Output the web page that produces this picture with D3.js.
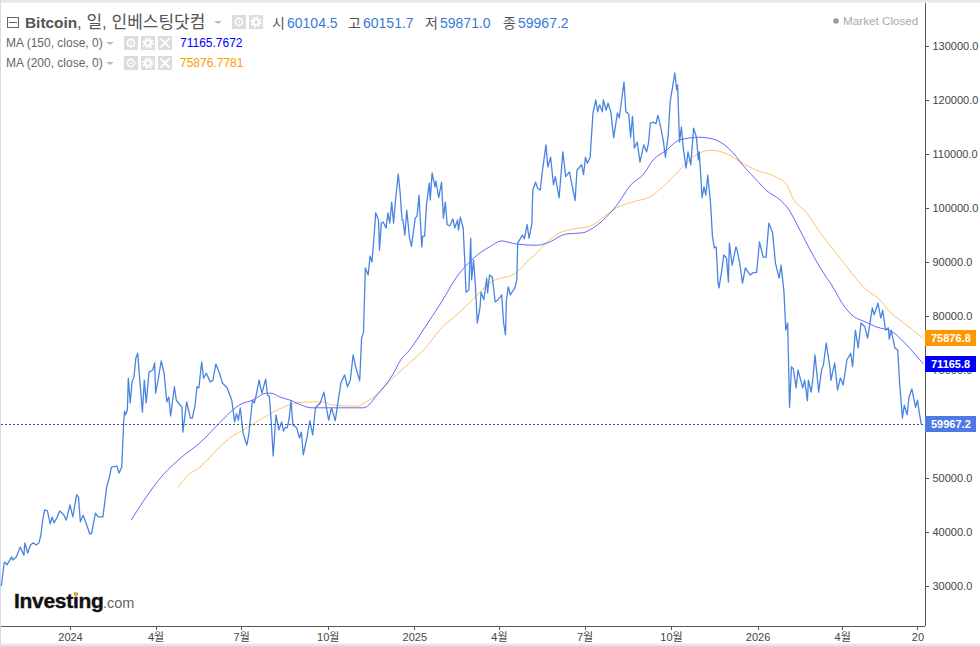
<!DOCTYPE html>
<html>
<head>
<meta charset="utf-8">
<script src="https://cdn.jsdelivr.net/npm/d3@7"></script>
<style>
  html, body { margin: 0; padding: 0; background: #fff; }
  svg { display: block; font-family: "Liberation Sans", "Noto Sans CJK KR", sans-serif; }
  .axis path, .axis line { stroke: #555; shape-rendering: crispEdges; }
  .axis text { fill: #444; font-size: 11px; font-family: "Liberation Sans", "Noto Sans CJK KR", sans-serif; }
</style>
</head>
<body>
<div id="chart"></div>
<script>
(function() {
  'use strict';

  // all days are counted from 2024-01-01, prices are in thousands
  var closeDays = [-73,-70,-69,-67,-62,-61,-57,-53,-49,-48,-45,-42,-39,-36,-33,-31,-29,-27,-24,-21,-19,-17,-14,-11,-7,-4,0,3,7,9,11,14,17,21,23,27,30,35,39,42,44,50,52,55,57,58,59,61,62,64,66,68,70,72,74,77,79,81,84,88,90,91,94,97,100,103,105,107,111,113,119,120,124,128,130,133,135,137,140,142,145,149,152,155,159,162,167,172,175,177,179,181,184,188,190,194,196,198,201,204,208,210,212,214,216,219,222,225,227,229,231,233,235,237,241,244,246,248,252,255,258,261,266,270,273,275,278,282,284,288,292,295,298,301,304,308,310,312,314,317,319,321,323,325,328,329,331,333,336,338,340,342,344,346,349,351,353,354,356,358,361,363,367,369,371,374,375,377,379,382,383,385,388,389,392,395,397,399,401,404,407,409,412,413,415,418,420,421,424,426,427,429,431,433,436,437,440,443,444,446,449,452,455,459,461,463,464,466,468,473,475,476,478,481,483,486,488,491,492,495,497,500,502,506,508,511,514,516,520,524,527,531,533,537,539,544,546,548,550,553,556,559,561,563,566,567,570,572,575,578,582,584,586,589,591,594,596,598,600,603,606,610,613,615,617,620,623,625,628,631,633,636,638,641,643,645,646,648,650,652,655,657,660,663,666,668,669,672,674,676,678,681,683,685,687,689,690,693,695,698,700,701,704,708,709,712,715,718,723,726,730,733,737,740,743,747,750,754,756,759,761,763,765,767,769,772,774,779,781,784,785,788,790,792,796,799,801,804,808,809,813,816,819,822,826,830,832,835,838,841,845,848,853,855,859,862,864,867,870,871,873,877,880,882,885,887,890,892,895,899,901,903,905];
  var closeValues = [30.0,34.3,34.4,33.9,35.4,34.8,35.4,37.2,35.7,38.0,36.1,37.6,38.0,37.6,38.0,39.4,42.2,44.1,43.9,41.5,42.8,41.7,42.6,43.9,43.3,42.2,45.0,42.8,46.9,46.5,41.9,43.1,41.7,39.6,39.8,43.5,42.8,42.8,48.3,50.2,52.0,52.2,50.9,52.0,60.2,62.4,61.7,62.6,68.5,63.9,67.8,68.7,72.2,73.1,68.5,62.2,68.1,63.9,69.6,70.0,71.3,65.7,68.5,71.7,69.4,64.1,65.0,61.5,66.9,64.4,63.1,58.5,64.1,61.1,61.1,63.5,66.9,66.7,71.5,68.5,69.4,67.8,68.1,71.1,69.4,67.6,66.7,64.4,60.4,61.9,60.7,63.0,58.3,56.1,58.0,64.4,63.9,65.4,68.1,65.7,68.3,65.4,65.0,60.2,54.1,61.7,58.9,60.4,58.7,59.4,59.3,61.1,64.3,59.8,59.3,57.4,58.5,54.3,57.6,60.6,58.0,63.0,63.9,65.9,62.6,60.7,63.0,60.6,63.0,67.6,69.1,66.9,68.1,72.8,70.4,68.0,75.9,76.9,88.9,87.6,91.1,90.0,94.1,99.1,97.8,92.2,97.2,97.4,96.3,99.1,97.2,101.1,97.2,101.3,106.3,102.8,97.8,97.8,95.0,99.6,94.4,92.9,98.1,98.5,102.4,92.8,94.8,94.8,100.6,104.6,101.5,106.5,103.9,105.0,101.9,104.8,98.1,101.1,96.9,96.7,98.0,96.3,97.8,95.9,98.3,96.3,89.1,84.4,84.8,94.4,86.7,90.4,85.7,78.7,81.7,84.4,83.0,87.0,84.3,87.6,87.2,82.6,83.0,83.9,78.7,76.5,83.0,85.4,83.9,85.2,86.7,93.5,94.1,95.0,94.3,96.9,94.4,97.0,103.3,104.8,103.7,103.3,106.5,111.7,107.6,109.4,104.3,105.8,101.9,110.4,105.8,106.7,104.9,101.4,107.0,108.0,106.2,109.4,108.3,109.4,117.6,120.0,117.8,119.1,117.8,120.0,118.1,119.4,117.8,113.0,117.6,116.7,119.4,123.3,117.8,117.4,113.1,117.0,111.1,112.2,108.5,111.7,110.4,112.0,115.7,115.9,115.6,117.2,115.0,112.2,109.4,113.5,119.6,122.8,125.0,121.9,122.8,112.2,115.0,111.1,107.4,110.4,108.0,114.8,113.1,108.9,110.4,101.9,103.9,102.4,106.1,100.9,94.8,92.6,92.8,86.1,85.2,88.5,91.3,90.7,86.3,93.5,89.4,92.8,92.4,89.8,86.1,88.9,87.6,88.0,88.1,93.7,90.9,90.9,97.2,95.4,89.8,87.0,89.4,84.6,77.4,78.7,63.1,70.6,70.2,66.7,70.0,66.7,68.1,64.3,68.1,65.9,68.7,72.8,65.9,70.0,70.9,75.0,70.4,68.1,71.3,66.3,68.5,67.2,71.9,73.1,70.6,77.4,74.1,78.7,78.0,75.9,81.5,80.2,82.4,79.6,81.1,77.4,77.8,75.7,77.4,74.1,73.7,67.6,61.1,63.5,61.7,65.0,66.5,63.1,64.4,62.0,59.9672];

  var ma150Days = [65,78,99,119,138,159,173,182,194,209,214,223,236,246,257,276,312,328,344,351,361,377,395,411,429,446,459,465,476,496,507,528,545,556,579,598,609,620,634,648,669,683,705,715,733,740,755,763,776,787,797,813,820,834,843,857,875,884,907];
  var ma150Values = [42.2,45.7,50.6,53.9,56.5,60.2,62.6,63.7,64.4,65.7,65.7,65.0,64.3,63.5,63.0,63.0,63.0,65.7,69.4,71.7,73.7,77.8,82.6,87.2,90.7,92.8,93.9,93.7,93.3,93.1,93.5,95.2,95.4,96.3,100.0,104.6,106.1,108.9,110.7,112.6,113.1,112.8,110.2,108.0,104.6,103.3,101.5,100.0,95.9,92.2,89.1,84.8,82.6,79.8,79.1,78.0,77.0,75.6,71.1658];

  var ma200Days = [115,126,138,149,159,170,188,205,223,241,257,269,279,305,315,326,343,361,377,395,411,428,446,475,489,494,507,521,535,554,570,581,602,616,630,648,662,682,701,715,730,751,762,768,783,797,821,847,861,872,885,907];
  var ma200Values = [48.3,50.6,52.0,53.9,55.7,57.4,59.3,61.1,62.8,63.9,64.1,64.1,63.5,63.3,64.1,65.4,68.5,71.3,73.9,77.8,80.2,83.0,86.1,88.1,90.6,91.3,93.7,95.4,96.1,96.7,98.7,100.0,101.3,102.0,103.9,107.0,109.4,110.7,109.8,108.3,107.0,105.7,104.3,102.0,99.1,95.6,90.2,84.8,83.0,80.7,78.9,75.8768];

  var priceTicks = [30,40,50,60,70,80,90,100,110,120,130];
  var timeTickDates = ['2024-01-01','2024-04-01','2024-07-01','2024-10-01','2025-01-01','2025-04-01','2025-07-01','2025-10-01','2026-01-01','2026-04-01','2026-06-20'];
  var timeTickLabels = ['2024','4월','7월','10월','2025','4월','7월','10월','2026','4월','20'];

  var quoteNames = ['시','고','저','종'];
  var quoteValues = ['60104.5','60151.7','59871.0','59967.2'];
  var maNames = ['MA (150, close, 0)','MA (200, close, 0)'];
  var maReadouts = ['71165.7672','75876.7781'];
  var tagValues = [75.8768, 71.1658, 59.9672];

  var width = 980, height = 646;
  var plotRight = 925, plotBottom = 626;
  var blueLine = '#4a84e0', ma150Color = '#0000ff', ma200Color = '#ff9800', lastColor = '#4e79e6';

  var day0 = Date.UTC(2024, 0, 1);
  function toDate(d) { return new Date(day0 + d * 86400000); }

  var x = d3.scaleUtc()
    .domain([toDate(-74), toDate(909)])
    .range([0.4, plotRight]);
  var y = d3.scaleLinear().domain([30, 130]).range([586, 46]);

  var svg = d3.select('#chart').append('svg')
    .attr('width', width)
    .attr('height', height);

  // grey frame of the widget
  svg.append('rect').attr('width', width).attr('height', 2.5).attr('fill', '#e3e7ec');
  svg.append('rect').attr('width', 1).attr('height', height).attr('fill', '#d5dbe1');
  svg.append('rect').attr('y', 643.5).attr('width', width).attr('height', 3).attr('fill', '#e3e7ec');

  // lines
  function drawLine(days, values, color, w, op, curve) {
    var line = d3.line()
      .curve(curve)
      .x(function(d) { return x(toDate(d)); })
      .y(function(d, i) { return y(values[i]); });
    svg.append('path')
      .attr('d', line(days))
      .attr('fill', 'none')
      .attr('stroke', color)
      .attr('stroke-width', w)
      .attr('stroke-opacity', op)
      .attr('stroke-linejoin', 'round');
  }
  drawLine(ma200Days, ma200Values, ma200Color, 1, 0.6, d3.curveMonotoneX);
  drawLine(ma150Days, ma150Values, ma150Color, 1, 0.6, d3.curveMonotoneX);
  drawLine(closeDays, closeValues, blueLine, 1.3, 1, d3.curveLinear);

  // last price dotted line
  svg.append('line')
    .attr('x1', 1).attr('x2', plotRight)
    .attr('y1', Math.round(y(tagValues[2])) + 0.5).attr('y2', Math.round(y(tagValues[2])) + 0.5)
    .attr('stroke', '#2f4aa8')
    .attr('stroke-dasharray', '2,2');

  // axes
  var yAxis = d3.axisRight(y)
    .tickValues(priceTicks)
    .tickSize(3)
    .tickPadding(4)
    .tickFormat(function(d) { return (d * 1000).toFixed(1); });
  svg.append('g').attr('class', 'axis')
    .attr('transform', 'translate(' + (plotRight + 0.5) + ',0)')
    .call(yAxis)
    .call(function(g) { g.select('.domain').attr('d', 'M0,3V' + plotBottom); });

  var xAxis = d3.axisBottom(x)
    .tickValues(timeTickDates.map(function(s) { return new Date(s + 'T00:00:00Z'); }))
    .tickSize(3)
    .tickPadding(4)
    .tickFormat(function(d, i) { return timeTickLabels[i]; });
  svg.append('g').attr('class', 'axis')
    .attr('transform', 'translate(0,' + (plotBottom + 0.5) + ')')
    .call(xAxis)
    .call(function(g) { g.select('.domain').attr('d', 'M1,0H' + plotRight); });

  // value tags on the price axis
  [ma200Color, '#0000ff', lastColor].forEach(function(c, i) {
    var cy = y(tagValues[i]);
    svg.append('rect')
      .attr('x', plotRight).attr('y', Math.round(cy) - 8)
      .attr('width', 51).attr('height', 16)
      .attr('fill', c);
    svg.append('text')
      .attr('x', plotRight + 6).attr('y', Math.round(cy) + 4)
      .attr('fill', '#fff')
      .attr('font-size', 11)
      .attr('font-weight', 'bold')
      .text((tagValues[i] * 1000).toFixed(1));
  });

  // small grey legend buttons
  function button(bx, by, kind) {
    var g = svg.append('g').attr('transform', 'translate(' + bx + ',' + by + ')');
    g.append('rect').attr('width', 14).attr('height', 14).attr('fill', '#dcdcdc');
    if (kind === 'eye') {
      g.append('circle').attr('cx', 7).attr('cy', 7).attr('r', 3.6).attr('fill', 'none').attr('stroke', '#fff').attr('stroke-width', 1.6);
      g.append('circle').attr('cx', 7).attr('cy', 7).attr('r', 1).attr('fill', '#fff');
    } else if (kind === 'gear') {
      g.append('circle').attr('cx', 7).attr('cy', 7).attr('r', 3).attr('fill', 'none').attr('stroke', '#fff').attr('stroke-width', 2.2);
      g.append('circle').attr('cx', 7).attr('cy', 7).attr('r', 5).attr('fill', 'none').attr('stroke', '#fff').attr('stroke-width', 1.6).attr('stroke-dasharray', '2,1.9');
    } else {
      g.append('path').attr('d', 'M2.5,2.5L11.5,11.5M11.5,2.5L2.5,11.5').attr('stroke', '#fff').attr('stroke-width', 1.8);
    }
  }
  function caret(cx, cy) {
    svg.append('path').attr('d', 'M' + cx + ',' + cy + 'h8l-4,3z').attr('fill', '#bbb');
  }

  // title row
  svg.append('rect').attr('x', 7.5).attr('y', 17.5).attr('width', 11).attr('height', 10)
    .attr('fill', 'none').attr('stroke', '#666');
  svg.append('line').attr('x1', 9).attr('x2', 17).attr('y1', 22.5).attr('y2', 22.5).attr('stroke', '#666');
  svg.append('text').attr('x', 25).attr('y', 28).attr('fill', '#555').attr('font-size', 15.4)
    .attr('font-weight', 'bold').text('Bitcoin');
  svg.append('text').attr('x', 77).attr('y', 28).attr('fill', '#555').attr('font-size', 17)
    .text(', 일, 인베스팅닷컴');
  caret(214, 21);
  button(232, 15, 'eye');
  button(249, 15, 'gear');

  var quoteX = [272, 348, 425, 503];
  quoteNames.forEach(function(n, i) {
    svg.append('text').attr('x', quoteX[i]).attr('y', 28).attr('fill', '#555').attr('font-size', 14).text(n);
    svg.append('text').attr('x', quoteX[i] + 15).attr('y', 28).attr('fill', '#3c78d8').attr('font-size', 14).text(quoteValues[i]);
  });

  // moving average rows
  maNames.forEach(function(n, i) {
    var ry = 47 + i * 20;
    svg.append('text').attr('x', 6).attr('y', ry).attr('fill', '#666').attr('font-size', 12).text(n);
    caret(106, ry - 5);
    button(124, ry - 11, 'eye');
    button(141, ry - 11, 'gear');
    button(158, ry - 11, 'close');
    svg.append('text').attr('x', 180).attr('y', ry).attr('fill', i ? ma200Color : ma150Color).attr('font-size', 12).text(maReadouts[i]);
  });

  // market state
  svg.append('circle').attr('cx', 836).attr('cy', 21).attr('r', 2.8).attr('fill', '#999');
  svg.append('text').attr('x', 843).attr('y', 25).attr('fill', '#aaa').attr('font-size', 11.7).text('Market Closed');

  // logo
  svg.append('text').attr('x', 14).attr('y', 608).attr('fill', '#111').attr('stroke', '#111').attr('stroke-width', 0.4)
    .attr('font-size', 21).attr('font-weight', 'bold').attr('letter-spacing', -0.3).text('Investing');
  svg.append('text').attr('x', 103).attr('y', 608).attr('fill', '#666').attr('font-size', 14.5).text('.com');
  svg.append('circle').attr('cx', 76).attr('cy', 594).attr('r', 1.8).attr('fill', '#f7a823');
})();
</script>
</body>
</html>
